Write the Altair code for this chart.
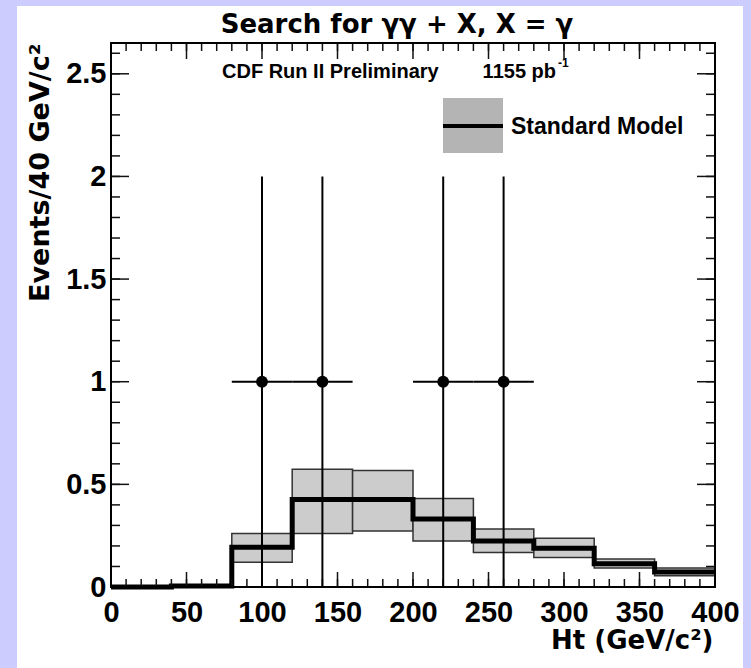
import altair as alt
import pandas as pd

# ---------------- data ----------------
bin_lo = [0, 40, 80, 120, 160, 200, 240, 280, 320, 360]
bin_hi = [40, 80, 120, 160, 200, 240, 280, 320, 360, 400]
sm_central = [0.0, 0.005, 0.194, 0.426, 0.426, 0.331, 0.224, 0.189, 0.113, 0.073]
sm_upper = [0.0, 0.005, 0.261, 0.573, 0.568, 0.431, 0.282, 0.237, 0.137, 0.092]
sm_lower = [0.0, 0.005, 0.121, 0.261, 0.273, 0.224, 0.168, 0.144, 0.092, 0.055]

data_ht = [100, 140, 220, 260]
data_events = [1, 1, 1, 1]
data_xlo = [80, 120, 200, 240]
data_xhi = [120, 160, 240, 280]
data_ylo = [0, 0, 0, 0]
data_yhi = [2, 2, 2, 2]

x_major = [0, 50, 100, 150, 200, 250, 300, 350, 400]
x_minor = [0, 10, 20, 30, 40, 50, 60, 70, 80, 90, 100, 110, 120, 130, 140, 150, 160,
           170, 180, 190, 200, 210, 220, 230, 240, 250, 260, 270, 280, 290, 300, 310,
           320, 330, 340, 350, 360, 370, 380, 390, 400]
y_major = [0, 0.5, 1, 1.5, 2, 2.5]
y_minor = [0, 0.1, 0.2, 0.3, 0.4, 0.5, 0.6, 0.7, 0.8, 0.9, 1.0, 1.1, 1.2, 1.3, 1.4,
           1.5, 1.6, 1.7, 1.8, 1.9, 2.0, 2.1, 2.2, 2.3, 2.4, 2.5, 2.6]

title_text = "Search for γγ + X, X = γ"
label_text = "CDF Run II Preliminary"
lumi_text = "1155 pb"
lumi_sup = "-1"
legend_text = "Standard Model"
x_title = "Ht (GeV/c²)"
y_title = "Events/40 GeV/c²"

# ---------------- layout ----------------
W, H = 604, 544
PAD = {"left": 111, "top": 43, "right": 36, "bottom": 81}
FONT = "DejaVu Sans"
FONT2 = "Liberation Sans"

xs = alt.Scale(domain=[0, 400], nice=False, zero=False)
ys = alt.Scale(domain=[0, 2.65], nice=False, zero=False)

AX = alt.Axis(values=x_major, format="d", title=x_title, titleAnchor="end",
              titleAlign="right", titleX=602, titleY=61,
              titleBaseline="alphabetic", titleFont=FONT, titleFontSize=26,
              titleFontWeight="bold", titleColor="black",
              labelFont=FONT2, labelFontSize=29, labelFontWeight="bold",
              labelColor="black", labelPadding=11, labelFlush=False,
              labelOverlap=False, ticks=False, domain=False, grid=False, zindex=2)
AY = alt.Axis(values=y_major, format="~g", title=y_title, titleAngle=270, titleX=-71,
              titleY=0, titleAlign="right", titleBaseline="middle",
              titleFont=FONT, titleFontSize=27, titleFontWeight="bold",
              titleColor="black",
              labelFont=FONT2, labelFontSize=29, labelFontWeight="bold",
              labelColor="black", labelPadding=5, labelFlush=False,
              labelOverlap=False, ticks=False, domain=False, grid=False, zindex=2)

bins = pd.DataFrame({"lo": bin_lo, "hi": bin_hi, "c": sm_central,
                     "up": sm_upper, "dn": sm_lower})
steps = pd.DataFrame({"x": bin_lo + [bin_hi[-1]], "y": sm_central + [sm_central[-1]]})
pts = pd.DataFrame({"ht": data_ht, "n": data_events, "xlo": data_xlo, "xhi": data_xhi,
                    "ylo": data_ylo, "yhi": data_yhi})
one = pd.DataFrame({"a": [0]})

# white panel behind everything
panel = alt.Chart(one).mark_rect(color="white").encode(
    x=alt.value(-94), x2=alt.value(632), y=alt.value(-37), y2=alt.value(625))

band = alt.Chart(bins).mark_rect(fill="#cccccc", stroke="#333333", strokeWidth=1.5).encode(
    x=alt.X("lo:Q", scale=xs, axis=AX), x2="hi:Q",
    y=alt.Y("dn:Q", scale=ys, axis=AY), y2="up:Q",
)

central = alt.Chart(steps).mark_line(interpolate="step-after", color="black",
                                     strokeWidth=5).encode(
    x=alt.X("x:Q", scale=xs, axis=AX), y=alt.Y("y:Q", scale=ys, axis=AY))

vbars = alt.Chart(pts).mark_rule(color="black", strokeWidth=2).encode(
    x=alt.X("ht:Q", scale=xs, axis=AX), y=alt.Y("ylo:Q", scale=ys, axis=AY), y2="yhi:Q")
hbars = alt.Chart(pts).mark_rule(color="black", strokeWidth=2).encode(
    x=alt.X("xlo:Q", scale=xs, axis=AX), x2="xhi:Q", y=alt.Y("n:Q", scale=ys, axis=AY))
dots = alt.Chart(pts).mark_circle(color="black", opacity=1, size=140).encode(
    x=alt.X("ht:Q", scale=xs, axis=AX), y=alt.Y("n:Q", scale=ys, axis=AY))

# ROOT-style inside ticks
def xticks(vals, length, top):
    df = pd.DataFrame({"v": vals})
    if top:
        yy, yy2 = alt.value(0), alt.value(length)
    else:
        yy, yy2 = alt.value(H), alt.value(H - length)
    return alt.Chart(df).mark_rule(color="#111111", strokeWidth=1.5).encode(
        x=alt.X("v:Q", scale=xs, axis=AX), y=yy, y2=yy2)

def yticks(vals, length, right):
    df = pd.DataFrame({"v": vals})
    if right:
        xx, xx2 = alt.value(W), alt.value(W - length)
    else:
        xx, xx2 = alt.value(0), alt.value(length)
    return alt.Chart(df).mark_rule(color="#111111", strokeWidth=1.5).encode(
        y=alt.Y("v:Q", scale=ys, axis=AY), x=xx, x2=xx2)

ticks = [xticks(x_minor, 8, False), xticks(x_major, 15, False),
         xticks(x_minor, 8, True), xticks(x_major, 16, True),
         yticks(y_minor, 9, False), yticks(y_major, 18, False),
         yticks(y_minor, 9, True), yticks(y_major, 18, True)]

frame = alt.Chart(one).mark_rect(fillOpacity=0, stroke="black", strokeWidth=2).encode(
    x=alt.value(0), x2=alt.value(W), y=alt.value(0), y2=alt.value(H))

# legend
leg_box = alt.Chart(one).mark_rect(color="#b4b4b4").encode(
    x=alt.value(332), x2=alt.value(392), y=alt.value(55), y2=alt.value(110))
leg_line = alt.Chart(one).mark_rule(color="black", strokeWidth=4).encode(
    x=alt.value(332), x2=alt.value(392), y=alt.value(83))
leg_text = alt.Chart(one).mark_text(text=legend_text, font=FONT2, fontSize=23,
                                    fontWeight="bold", align="left", baseline="middle",
                                    color="black").encode(x=alt.value(400), y=alt.value(84))

# annotations
title = alt.Chart(one).mark_text(text=title_text, font=FONT, fontSize=26, fontWeight="bold",
                                 align="center", baseline="middle", color="black").encode(
    x=alt.value(286), y=alt.value(-18))
cdf = alt.Chart(one).mark_text(text=label_text, font=FONT2, fontSize=20, fontWeight="bold",
                               align="left", baseline="middle", color="black").encode(
    x=alt.value(111), y=alt.value(29))
lumi = alt.Chart(one).mark_text(text=lumi_text, font=FONT2, fontSize=20, fontWeight="bold",
                                align="right", baseline="middle", color="black").encode(
    x=alt.value(445), y=alt.value(29))
sup = alt.Chart(one).mark_text(text=lumi_sup, font=FONT2, fontSize=12, fontWeight="bold",
                               align="left", baseline="middle", color="black").encode(
    x=alt.value(447), y=alt.value(20))

chart = alt.layer(
    panel, band, central, *ticks, vbars, hbars, dots, frame,
    leg_box, leg_line, leg_text, title, cdf, lumi, sup
).properties(
    width=W, height=H,
    autosize=alt.AutoSizeParams(type="none"),
    padding=PAD,
).configure(background="#ccccff").configure_view(stroke=None)

chart.save("out.html", embed_options={"renderer": "svg", "actions": False})
